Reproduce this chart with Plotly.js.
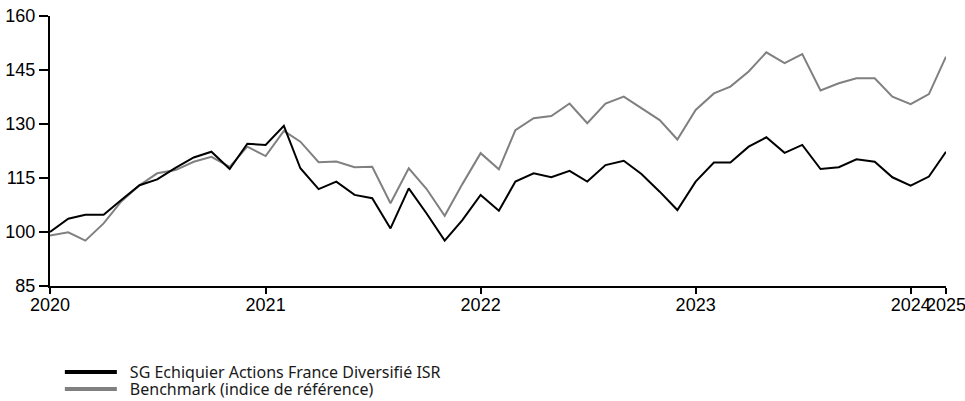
<!DOCTYPE html>
<html>
<head>
<meta charset="utf-8">
<script src="https://cdn.plot.ly/plotly-3.0.1.min.js"></script>
<style>html,body{margin:0;padding:0;background:#fff;}#chart{width:965px;height:401px;}</style>
</head>
<body>
<div id="chart"></div>
<script>
// Monthly observations, Jan 2020 .. Mar 2024
const startYear = 2020, startMonth = 0, nMonths = 51;
const months = [];
for (let i = 0; i < nMonths; i++) {
  const d = new Date(Date.UTC(startYear, startMonth + i, 1));
  months.push(d.toISOString().slice(0, 10));
}

const fundName = "SG Echiquier Actions France Diversifié ISR";
const benchName = "Benchmark (indice de référence)";

const fundValues = [
  100.0, 103.7, 104.8, 104.8, 108.9, 113.0, 114.6, 117.8, 120.7, 122.3, 117.5, 124.5,
  124.2, 129.5, 117.7, 111.9, 114.0, 110.3, 109.4, 101.0, 112.1, 105.2, 97.6, 103.3,
  110.3, 105.9, 114.0, 116.3, 115.2, 117.0, 114.0, 118.6, 119.8, 116.1, 111.2, 106.1,
  114.0, 119.3, 119.3, 123.7, 126.3, 122.0, 124.2, 117.5, 118.0, 120.2, 119.5, 115.2,
  112.9, 115.4, 122.3
];

const benchValues = [
  99.0, 99.9, 97.6, 102.4, 108.5, 113.0, 116.3, 117.2, 119.5, 120.9, 118.1, 123.7,
  121.1, 128.1, 125.1, 119.4, 119.6, 118.0, 118.1, 108.0, 117.7, 112.0, 104.5, 113.3,
  121.9, 117.4, 128.3, 131.6, 132.2, 135.7, 130.2, 135.7, 137.6, 134.4, 131.1, 125.7,
  133.9, 138.5, 140.4, 144.6, 149.9, 146.9, 149.4, 139.3, 141.3, 142.7, 142.7, 137.6,
  135.5, 138.3, 148.7
];

const xTickVals = ["2020-01-01", "2021-01-01", "2022-01-01", "2023-01-01", "2024-01-01", "2024-03-01"];
const xTickText = ["2020", "2021", "2022", "2023", "2024", "2025"];
const yTickVals = [85, 100, 115, 130, 145, 160];

const fundColor = "#000000";
const benchColor = "#808080";
const legendPad = "\u2002";

const traces = [
  {x: months, y: benchValues, type: "scatter", mode: "lines", name: benchName,
   line: {color: benchColor, width: 2}, showlegend: false, hoverinfo: "skip"},
  {x: months, y: fundValues, type: "scatter", mode: "lines", name: fundName,
   line: {color: fundColor, width: 2}, showlegend: false, hoverinfo: "skip"},
  {x: [null], y: [null], type: "scatter", mode: "lines", name: legendPad + fundName,
   line: {color: fundColor, width: 4}, showlegend: true, legend: "legend"},
  {x: [null], y: [null], type: "scatter", mode: "lines", name: legendPad + benchName,
   line: {color: benchColor, width: 4}, showlegend: true, legend: "legend2"}
];

const legendBase = {
  orientation: "v", x: 0.011, xanchor: "left", yref: "container", yanchor: "top",
  font: {family: "Noto Sans, sans-serif", size: 16, color: "#1a1a1a"},
  itemwidth: 52, tracegroupgap: 0, bgcolor: "rgba(0,0,0,0)"
};

const layout = {
  width: 965, height: 401,
  margin: {l: 50, r: 19, t: 16, b: 115, autoexpand: false},
  paper_bgcolor: "#ffffff", plot_bgcolor: "#ffffff",
  font: {family: "Liberation Sans, Arial, sans-serif", size: 18, color: "#000"},
  xaxis: {
    type: "date", range: [months[0], months[months.length - 1] + " 00:00:01"],
    tickmode: "array", tickvals: xTickVals, ticktext: xTickText, tickangle: 0,
    showgrid: false, zeroline: false, showline: true, linecolor: "#000", linewidth: 2,
    ticks: "outside", ticklen: 6, tickwidth: 2, tickcolor: "#000",
    ticklabeloverflow: "allow", ticklabelstandoff: -5,
    tickfont: {family: "Liberation Sans, Arial, sans-serif", size: 18, color: "#000"}
  },
  yaxis: {
    range: [85, 160], tickmode: "array", tickvals: yTickVals,
    showgrid: false, zeroline: false, showline: true, linecolor: "#000", linewidth: 2,
    ticks: "outside", ticklen: 9, tickwidth: 2, tickcolor: "#000",
    tickfont: {family: "Liberation Sans, Arial, sans-serif", size: 18, color: "#000"}
  },
  showlegend: true,
  legend: Object.assign({}, legendBase, {y: 0.1147}),
  legend2: Object.assign({}, legendBase, {y: 0.0723})
};

Plotly.newPlot("chart", traces, layout, {displayModeBar: false, staticPlot: true});
</script>
</body>
</html>
